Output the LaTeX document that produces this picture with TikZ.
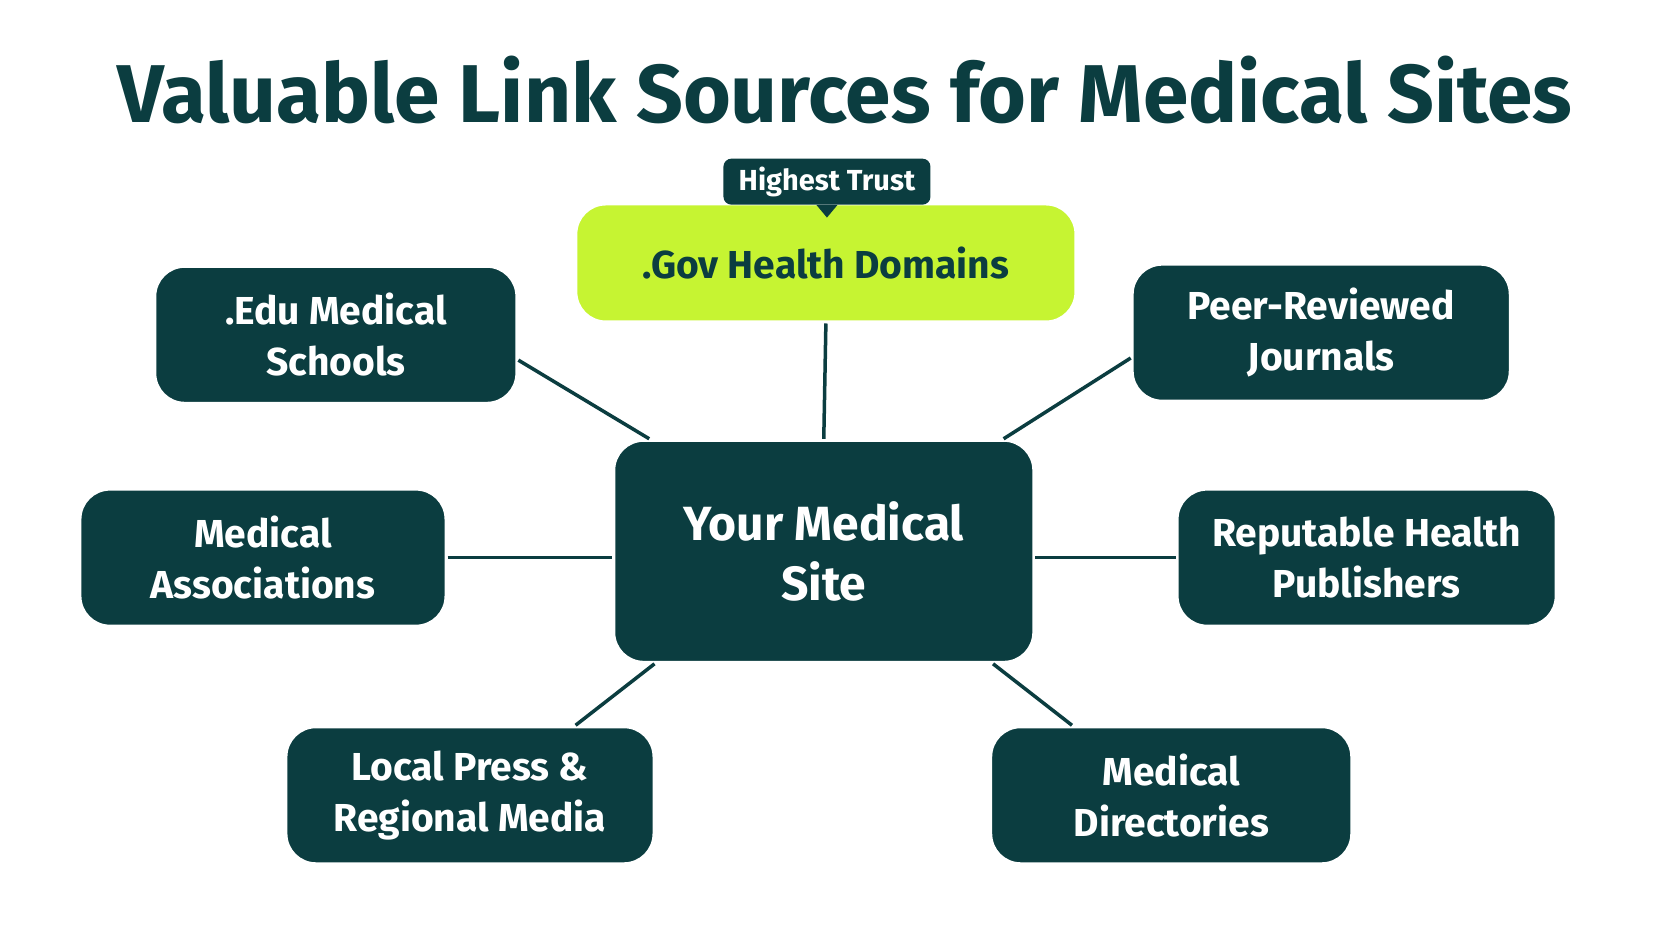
\documentclass[tikz,border=0pt]{standalone}
\usepackage{fontspec}
\usetikzlibrary{calc}
\setmainfont{Fira Sans}
\definecolor{dk}{HTML}{0B3D40}
\definecolor{lg}{HTML}{C6F432}
\begin{document}
\begin{tikzpicture}[x=1.056pt,y=-1.056pt,
 box/.style={draw=white,line width=3pt,fill=dk,rounded corners=30pt,text=white,align=center,font=\fontsize{39}{51}\selectfont\bfseries,inner sep=0pt},
 ln/.style={draw=dk,line width=3.5pt}]
\useasboundingbox[fill=white] (0,0) rectangle (1568,900);
\node[font=\fontsize{82}{90}\selectfont\bfseries,text=dk] (t) at (800,85) {Valuable Link Sources for Medical Sites};
\node[box,minimum width=420pt,minimum height=222pt,font=\fontsize{48}{60}\selectfont\bfseries] (c) at (780,522) {Your Medical\\Site};
\node[box,fill=lg,text=dk,minimum width=500pt,minimum height=118pt] (g) at (782,249) {.Gov Health Domains};
\node[fill=dk,text=white,rounded corners=8pt,minimum width=207pt,minimum height=46pt,inner sep=0pt,font=\fontsize{29}{34}\selectfont\bfseries] (h) at (783,172) {Highest Trust};
\fill[dk] (773,194) -- (793,194) -- (783,206) -- cycle;
\node[box,minimum width=362pt,minimum height=137pt] (e) at (318,317) {.Edu Medical\\Schools};
\node[box,minimum width=378pt,minimum height=137pt] (p) at (1251,315) {Peer-Reviewed\\Journals};
\node[box,minimum width=366pt,minimum height=137pt] (m) at (249,528) {Medical\\Associations};
\node[box,minimum width=379pt,minimum height=137pt] (r) at (1294,528) {Reputable Health\\Publishers};
\node[box,minimum width=368pt,minimum height=137pt] (l) at (445,753) {Local Press \&\\Regional Media};
\node[box,minimum width=361pt,minimum height=137pt] (d) at (1109,753) {Medical\\Directories};
\draw[ln] (g.south) -- (c.north);
\draw[ln] ($(e.east)+(0,24)$) -- ($(c.north west)+(35,0)$);
\draw[ln] ($(p.west)+(0,24)$) -- ($(c.north east)+(-30,0)$);
\draw[ln] (m.east) -- (c.west |- m.east);
\draw[ln] (r.west) -- (c.east |- r.west);
\draw[ln] ($(l.north)+(100,0)$) -- ($(c.south west)+(40,0)$);
\draw[ln] ($(d.north)+(-94,0)$) -- ($(c.south east)+(-40,0)$);
\end{tikzpicture}
\end{document}
